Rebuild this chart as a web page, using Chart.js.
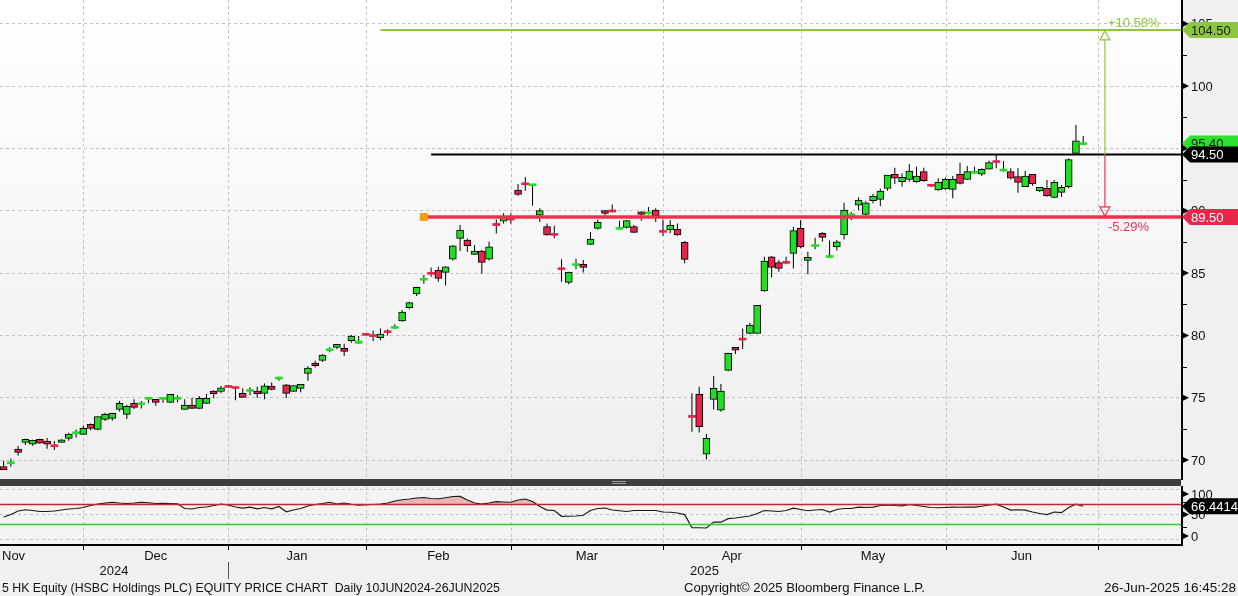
<!DOCTYPE html>
<html><head><meta charset="utf-8">
<script src="https://cdn.jsdelivr.net/npm/chart.js@4.4.1/dist/chart.umd.min.js"></script>
<style>
html,body{margin:0;padding:0;background:#f0f0f0;width:1238px;height:596px;overflow:hidden;font-family:"Liberation Sans",Arial,sans-serif;}
#mainBox{position:absolute;left:0;top:0;width:1238px;height:480px;}
#sep{position:absolute;left:0;top:479px;width:1181px;height:7px;background:#3e3e3e;}
#sep i{position:absolute;left:612px;width:14px;height:1px;background:#9a9a9a;}
#rsiBox{position:absolute;left:0;top:486px;width:1238px;height:110px;}
.foot{position:absolute;top:580px;font-size:13px;line-height:15px;color:#111;white-space:pre;transform-origin:0 0;}
</style></head>
<body>
<div id="mainBox"><canvas id="cMain"></canvas></div>
<div id="sep"><i style="top:2px"></i><i style="top:4px"></i></div>
<div id="rsiBox"><canvas id="cRsi"></canvas></div>
<div class="foot" style="left:2px" data-w="498">5 HK Equity (HSBC Holdings PLC) EQUITY PRICE CHART  Daily 10JUN2024-26JUN2025</div>
<div class="foot" style="left:684px" data-w="241">Copyright© 2025 Bloomberg Finance L.P.</div>
<div class="foot" style="left:1104px" data-w="132">26-Jun-2025 16:45:28</div>
<script>
// ---------- categories (trading days) ----------
const novDays=[15,18,19,20,21,22,25,26,27,28,29];
const decDays=[2,3,4,5,6,9,10,11,12,13,16,17,18,19,20,23,24,27,30,31];
const janDays=[2,3,6,7,8,9,10,13,14,15,16,17,20,21,22,23,24,27,28];
const febDays=[3,4,5,6,7,10,11,12,13,14,17,18,19,20,21,24,25,26,27,28];
const marDays=[3,4,5,6,7,10,11,12,13,14,17,18,19,20,21,24,25,26,27,28,31];
const aprDays=[1,2,3,7,8,9,10,11,14,15,16,17,22,23,24,25,28,29,30];
const mayDays=[2,6,7,8,9,12,13,14,15,16,19,20,21,22,23,26,27,28,29,30];
const junDays=[2,3,4,5,6,9,10,11,12,13,16,17,18,19,20,23,24,25,26,27,30];
const julDays=[2,3,4,7,8,9,10,11,14,15,16,17];
const monthKeys=['2024-11','2024-12','2025-01','2025-02','2025-03','2025-04','2025-05','2025-06','2025-07'];
const monthNames=['Nov','Dec','Jan','Feb','Mar','Apr','May','Jun','Jul'];
const monthDays=[novDays,decDays,janDays,febDays,marDays,aprDays,mayDays,junDays,julDays];
const labels=[];
monthKeys.forEach((m,k)=>monthDays[k].forEach(d=>labels.push(m+'-'+String(d).padStart(2,'0'))));

// ---------- price series ----------
const openP=[69.47,69.70,70.88,71.42,71.28,71.66,71.52,71.18,71.42,71.74,
72.11,72.06,72.86,72.46,73.26,73.34,74.06,73.66,74.55,74.44,
74.87,74.87,74.87,74.63,74.87,74.06,74.41,74.14,74.55,75.53,
75.50,75.94,75.88,75.35,75.50,75.53,75.35,75.94,76.50,76.04,
75.50,75.75,76.95,77.78,77.99,78.77,79.04,78.97,79.58,79.36,
80.05,80.03,79.82,80.36,80.56,81.16,82.22,83.32,84.42,85.02,
85.21,85.05,86.12,87.78,87.65,86.50,86.76,86.12,88.98,89.17,
89.40,91.66,92.19,92.00,89.65,88.72,88.12,85.40,84.25,85.60,
85.70,87.30,88.58,90.00,90.05,88.50,88.66,88.72,89.90,89.75,
90.05,88.38,88.45,88.50,87.46,73.55,75.27,70.48,74.87,74.00,
77.19,79.04,79.74,80.16,80.16,83.56,86.30,85.83,85.90,86.58,
88.58,86.02,87.12,88.18,86.25,87.10,88.05,89.60,90.45,89.70,
90.80,90.91,91.79,92.91,92.33,92.51,92.33,93.13,92.11,91.66,
91.74,91.71,92.91,92.51,93.00,92.94,93.34,93.98,93.18,93.13,
92.73,91.93,92.91,91.58,91.79,91.07,91.47,91.93,94.60,95.30];
const highP=[69.95,70.13,71.12,71.70,71.62,71.70,71.76,71.52,71.66,72.19,
72.46,72.78,72.94,73.50,73.80,73.80,74.73,74.44,74.87,74.73,
74.98,74.90,75.03,75.30,75.20,74.87,75.00,75.13,75.30,75.60,
75.94,75.97,75.90,75.75,75.83,75.88,76.15,76.23,76.68,76.10,
76.00,76.10,77.54,77.97,78.50,79.04,79.30,79.33,80.03,79.95,
80.07,80.40,80.56,80.50,80.90,82.03,82.70,83.90,84.84,85.45,
85.50,85.55,87.25,88.85,87.78,87.25,86.85,87.50,89.30,89.79,
89.80,92.14,92.70,92.10,90.20,88.98,88.80,86.10,85.10,86.15,
86.04,88.30,89.30,90.05,90.50,89.20,89.25,88.85,89.95,90.30,
90.20,89.30,89.25,88.98,87.57,75.35,75.88,72.09,76.74,76.10,
78.60,79.05,80.56,81.00,82.40,86.30,86.36,86.04,86.30,88.72,
89.25,86.70,87.83,88.30,87.60,87.65,90.64,89.90,91.07,90.75,
91.34,91.79,92.86,93.45,93.00,93.74,93.53,93.45,92.14,92.60,
92.67,92.78,93.85,93.58,93.53,93.40,94.00,94.52,93.98,93.40,
93.40,93.18,92.95,91.90,92.46,92.46,92.06,94.20,96.87,96.00];
const lowP=[69.20,69.47,70.37,71.20,71.15,71.30,70.90,70.80,71.40,71.55,
71.80,72.00,72.40,72.40,73.13,73.15,73.90,73.30,74.10,74.14,
74.55,74.36,74.60,74.60,74.63,74.06,74.10,74.10,74.50,74.95,
75.35,75.80,74.80,75.00,75.20,75.00,74.87,75.60,76.36,74.95,
75.45,75.43,76.36,77.43,77.86,78.64,78.90,78.35,79.41,79.30,
79.97,79.55,79.60,80.00,80.50,81.10,82.10,83.15,84.14,84.70,
84.30,84.00,86.00,86.76,86.70,86.45,84.97,86.00,88.18,88.98,
88.98,91.20,91.60,90.40,89.10,88.00,87.80,84.30,84.10,85.30,
85.05,87.25,88.50,89.50,89.85,88.50,88.58,88.20,89.20,89.70,
89.10,88.00,88.20,88.00,85.78,72.27,72.20,70.05,74.06,73.88,
77.15,78.50,78.90,80.10,80.16,83.50,84.65,85.10,85.70,85.37,
86.98,84.90,86.90,87.50,86.20,86.80,87.70,89.25,90.05,89.60,
90.60,90.37,91.60,92.14,91.93,92.33,92.25,92.33,91.90,91.60,
91.66,91.00,92.10,92.46,92.98,92.78,93.30,93.40,93.13,92.50,
91.44,91.90,92.00,91.50,91.12,91.00,91.10,91.80,94.50,95.27];
const closeP=[69.20,69.75,70.61,71.66,71.58,71.36,71.28,71.07,71.63,72.09,
72.25,72.54,72.54,73.48,73.66,73.74,74.55,74.30,74.22,74.48,
74.95,74.63,75.00,75.27,75.00,74.41,74.14,74.95,74.95,75.30,
75.80,75.82,75.74,75.03,75.60,75.32,75.96,75.67,76.55,75.35,
75.98,76.07,77.37,77.57,78.41,78.90,79.29,78.72,79.95,79.55,
80.00,79.90,80.10,80.22,80.72,81.87,82.63,83.85,84.51,84.90,
84.57,85.50,87.19,88.45,87.19,86.76,85.86,87.11,88.80,89.44,
89.25,91.31,92.08,92.05,90.00,88.05,88.02,85.27,85.05,85.72,
85.45,87.73,89.06,89.79,89.90,88.62,89.20,88.26,89.70,89.82,
89.60,88.26,88.85,88.05,86.10,73.42,72.67,71.74,75.75,75.53,
78.56,78.82,79.62,80.83,82.40,85.96,85.45,85.37,85.78,88.40,
87.10,86.26,87.22,87.86,86.38,87.50,90.05,89.66,90.86,90.64,
91.18,91.58,92.86,92.60,92.67,93.18,92.78,92.40,91.96,92.27,
92.51,92.51,92.19,93.13,93.10,93.32,93.85,93.86,93.30,92.60,
92.27,92.78,92.14,91.87,91.20,92.27,91.87,94.10,95.60,95.40];
const rsiValues=[45,50,57,59.5,58,56,56,57,59,61,
62,64,68,71,73,74.5,73,72,73,74.5,
73.5,72,72.5,72,71.5,62,61,64,65,68,
71,69,65,62.7,64.7,61.4,64,61.4,66,55.5,
59,62,67,70,72,74.5,71,73,70.5,68.6,
69.5,70,70.6,73,77,79.5,81,83,84,82,
81.5,83.5,86,86.3,79,73,70.6,73,75.8,75,
74.5,79,81,76,66,58.8,58,46.4,46.5,47,
48.5,58,62,63,59,57.5,56,58,58,58,
58,55,54.5,53,49.7,23.5,23.5,23,35,34.6,
41.8,43,45,47,52,58,57,56,58,62.7,
60,57.5,59,60,55,60,62,62,64.7,64,
64.7,68,69.3,68,67.3,70,68,66,64,63.5,
64,64.7,64.5,64.7,64.7,66.5,69,70.6,65,58.8,
59.5,58.8,55,52,49.7,55,53.6,64,70.6,66.4414];

// ---------- annotation levels ----------
const targetLevel=104.50, pivotLevel=94.50, supportLevel=89.50;
const targetFrom='2025-02-05', pivotFrom='2025-02-14', supportFrom='2025-02-13', arrowAt='2025-07-03';
const rsiHigh=70, rsiLow=30;
const yTickLabels=[0,50,100];

const UP='#22de22', DOWN='#e6234b';
const C_TARGET='#8dc63f', C_SUPPORT='#f0304f';
const FONT='13px "Liberation Sans", Arial, sans-serif';
const GRID='#c2c2c2';

const monthStarts=[];
labels.forEach((l,i)=>{ if(i>0 && l.slice(0,7)!==labels[i-1].slice(0,7)) monthStarts.push(i); });

function vGrid(ch){
  const {ctx,chartArea:a,scales:{x}}=ch;
  ctx.save(); ctx.strokeStyle=GRID; ctx.lineWidth=1; ctx.setLineDash([3,3]);
  monthStarts.forEach(i=>{ const px=Math.round(x.getPixelForValue(i))+0.5;
    ctx.beginPath(); ctx.moveTo(px,a.top); ctx.lineTo(px,a.bottom); ctx.stroke(); });
  ctx.restore();
}
function flag(ctx,x,y,w,h,bg,fg,text){
  ctx.save(); ctx.fillStyle=bg; ctx.beginPath();
  ctx.moveTo(x,y); ctx.lineTo(x+8,y-h/2); ctx.lineTo(x+w,y-h/2); ctx.lineTo(x+w,y+h/2); ctx.lineTo(x+8,y+h/2); ctx.closePath(); ctx.fill();
  ctx.fillStyle=fg; ctx.font=FONT; ctx.textBaseline='middle'; ctx.textAlign='left';
  ctx.fillText(text,x+9,y+1); ctx.restore();
}
function tri(ctx,x,y){ ctx.beginPath(); ctx.moveTo(x,y-3.5); ctx.lineTo(x+7,y); ctx.lineTo(x,y+3.5); ctx.closePath(); ctx.fill(); }

const mainDeco={
  id:'mainDeco',
  beforeDraw(ch){
    const {ctx,chartArea:a}=ch;
    ctx.save();
    const g=ctx.createLinearGradient(0,a.top,0,a.bottom); g.addColorStop(0,'#ffffff'); g.addColorStop(1,'#eeeeee');
    ctx.fillStyle=g; ctx.fillRect(a.left,a.top,a.right-a.left,a.bottom-a.top);
    ctx.fillStyle='#f0f0f0'; ctx.fillRect(a.right,0,ch.width-a.right,ch.height);
    ctx.restore();
  },
  beforeDatasetsDraw(ch){ vGrid(ch); },
  afterDatasetsDraw(ch){
    const {ctx,chartArea:a,scales:{x,y}}=ch;
    const yT=y.getPixelForValue(targetLevel), yP=y.getPixelForValue(pivotLevel), yS=y.getPixelForValue(supportLevel);
    const xT=x.getPixelForValue(labels.indexOf(targetFrom)), xP=x.getPixelForValue(labels.indexOf(pivotFrom)), xS=x.getPixelForValue(labels.indexOf(supportFrom));
    const xA=x.getPixelForValue(labels.indexOf(arrowAt));
    ctx.save();
    ctx.lineWidth=2; ctx.strokeStyle=C_TARGET; ctx.beginPath(); ctx.moveTo(xT,yT); ctx.lineTo(a.right,yT); ctx.stroke();
    ctx.strokeStyle='#000'; ctx.beginPath(); ctx.moveTo(xP,yP); ctx.lineTo(a.right,yP); ctx.stroke();
    ctx.lineWidth=3.5; ctx.strokeStyle=C_SUPPORT; ctx.beginPath(); ctx.moveTo(xS,yS); ctx.lineTo(a.right,yS); ctx.stroke();
    ctx.fillStyle='#f0a010'; ctx.fillRect(xS-4,yS-4,8,8);
    ctx.lineWidth=1.2;
    ctx.strokeStyle=C_TARGET; ctx.beginPath(); ctx.moveTo(xA,yT+10); ctx.lineTo(xA,yP); ctx.stroke();
    ctx.beginPath(); ctx.moveTo(xA,yT+1); ctx.lineTo(xA-5,yT+10); ctx.lineTo(xA+5,yT+10); ctx.closePath(); ctx.stroke();
    ctx.strokeStyle=C_SUPPORT; ctx.beginPath(); ctx.moveTo(xA,yP); ctx.lineTo(xA,yS-10); ctx.stroke();
    ctx.beginPath(); ctx.moveTo(xA,yS-1); ctx.lineTo(xA-5,yS-10); ctx.lineTo(xA+5,yS-10); ctx.closePath(); ctx.stroke();
    ctx.font=FONT; ctx.textBaseline='middle'; ctx.textAlign='left';
    const up=(targetLevel-pivotLevel)/pivotLevel*100, dn=(supportLevel-pivotLevel)/pivotLevel*100;
    ctx.fillStyle=C_TARGET; ctx.fillText('+'+up.toFixed(2)+'%',xA+3,yT-7);
    ctx.fillStyle=C_SUPPORT; ctx.fillText(dn.toFixed(2)+'%',xA+3,yS+10);
    ctx.restore();
  },
  afterDraw(ch){
    const {ctx,chartArea:a,scales:{y}}=ch;
    ctx.save();
    ctx.fillStyle='#000'; ctx.fillRect(a.right,0,2,a.bottom);
    ctx.font=FONT; ctx.textBaseline='middle'; ctx.textAlign='left';
    y.ticks.forEach(t=>{
      const py=y.getPixelForValue(t.value);
      ctx.fillStyle='#000'; tri(ctx,a.right+1,py);
      ctx.fillStyle='#111'; ctx.fillText(String(t.value),a.right+10,py+1);
      const mv=t.value+2.5, pm=y.getPixelForValue(mv);
      if(mv<y.max){ ctx.fillStyle='#000'; ctx.fillRect(a.right,Math.round(pm),6,1); }
    });
    const w=ch.width-a.right;
    const last=closeP[closeP.length-1];
    flag(ctx,a.right+1,y.getPixelForValue(targetLevel),w,16,C_TARGET,'#1a1a1a',targetLevel.toFixed(2));
    flag(ctx,a.right+1,y.getPixelForValue(last),w,16,'#2ee02e','#1a1a1a',last.toFixed(2));
    flag(ctx,a.right+1,y.getPixelForValue(pivotLevel),w,16,'#000','#fff',pivotLevel.toFixed(2));
    flag(ctx,a.right+1,y.getPixelForValue(supportLevel),w,16,'#e8284a','#fff',supportLevel.toFixed(2));
    ctx.restore();
  }
};

const thin=i=>Math.abs(closeP[i]-openP[i])<0.2;
new Chart(document.getElementById('cMain'),{
  type:'bar',
  data:{labels,datasets:[
    {label:'range',data:lowP.map((l,i)=>[l,highP[i]]),backgroundColor:'#000',barThickness:1,grouped:false,order:2,inflateAmount:0},
    {label:'body',data:openP.map((o,i)=>[o,closeP[i]]),
      backgroundColor:c=>closeP[c.dataIndex]>=openP[c.dataIndex]?UP:DOWN,
      borderColor:'#000',borderWidth:c=>thin(c.dataIndex)?0:1,borderSkipped:false,
      barThickness:7,minBarLength:2,grouped:false,order:1}
  ]},
  options:{responsive:true,maintainAspectRatio:false,animation:false,
    layout:{padding:0},
    plugins:{legend:{display:false},tooltip:{enabled:false}},
    scales:{
      x:{display:false,offset:true},
      y:{position:'right',min:68.4,max:106.9,
        ticks:{display:false,stepSize:5,includeBounds:false},
        grid:{color:GRID,drawTicks:false},border:{display:false,dash:[3,3]},
        afterFit(s){s.width=57;}}
    }},
  plugins:[mainDeco]
});

const rsiDeco={
  id:'rsiDeco',
  beforeDraw(ch){
    const {ctx,chartArea:a}=ch;
    ctx.save(); ctx.fillStyle='#f3f3f3'; ctx.fillRect(a.left,a.top,a.right-a.left,a.bottom-a.top); ctx.restore();
  },
  beforeDatasetsDraw(ch){ vGrid(ch); },
  afterDatasetsDraw(ch){
    const {ctx,chartArea:a,scales:{y}}=ch;
    ctx.save(); ctx.lineWidth=1.5;
    ctx.strokeStyle='#c0282e'; const p7=y.getPixelForValue(rsiHigh); ctx.beginPath(); ctx.moveTo(a.left,p7); ctx.lineTo(a.right,p7); ctx.stroke();
    ctx.strokeStyle='#33cc33'; const p3=y.getPixelForValue(rsiLow); ctx.beginPath(); ctx.moveTo(a.left,p3); ctx.lineTo(a.right,p3); ctx.stroke();
    ctx.restore();
  },
  afterDraw(ch){
    const {ctx,chartArea:a,scales:{x,y}}=ch;
    ctx.save();
    ctx.fillStyle='#000'; ctx.fillRect(a.right,0,2,a.bottom+1); ctx.fillRect(0,a.bottom-1,a.right+2,2);
    ctx.font=FONT; ctx.textBaseline='middle'; ctx.textAlign='left';
    yTickLabels.forEach(v=>{
      let py=y.getPixelForValue(v); py=Math.min(Math.max(py,a.top+8),a.bottom-9);
      ctx.fillStyle='#000'; tri(ctx,a.right+1,py);
      ctx.fillStyle='#111'; ctx.fillText(String(v),a.right+10,py+1);
    });
    [25,75].forEach(v=>{ ctx.fillStyle='#000'; ctx.fillRect(a.right,Math.round(y.getPixelForValue(v)),6,1); });
    const lastR=rsiValues[rsiValues.length-1];
    flag(ctx,a.right+1,y.getPixelForValue(lastR),ch.width-a.right,16,'#000','#fff',lastR.toFixed(4));
    ctx.fillStyle='#000';
    monthStarts.forEach(i=>{ const px=Math.round(x.getPixelForValue(i)); ctx.fillRect(px,a.bottom,1,5); });
    ctx.fillStyle='#111'; ctx.textBaseline='alphabetic';
    const bounds=[0].concat(monthStarts);
    bounds.forEach((s,k)=>{
      const name=monthNames[monthKeys.indexOf(labels[s].slice(0,7))];
      if(k===0){ ctx.textAlign='left'; ctx.fillText(name,2,a.bottom+15); return; }
      const e=k+1<bounds.length?bounds[k+1]:null;
      if(e===null) return;
      const cx=(x.getPixelForValue(s)+x.getPixelForValue(e))/2;
      ctx.textAlign='center'; ctx.fillText(name,cx,a.bottom+15);
    });
    const janIdx=labels.indexOf('2025-01-'+String(janDays[0]).padStart(2,'0'));
    const pj=Math.round(x.getPixelForValue(janIdx));
    ctx.textAlign='center';
    ctx.fillText('2024',(a.left+pj)/2,a.bottom+30);
    ctx.fillText('2025',(pj+a.right)/2,a.bottom+30);
    ctx.fillStyle='#555'; ctx.fillRect(pj,a.bottom+17,1,17);
    ctx.restore();
  }
};

new Chart(document.getElementById('cRsi'),{
  type:'line',
  data:{labels,datasets:[{label:'RSI',data:rsiValues,borderColor:'#1a1a1a',borderWidth:1.2,pointRadius:0,tension:0,
    fill:{target:{value:rsiHigh},above:'rgba(232,140,140,0.6)',below:'rgba(0,0,0,0)'}}]},
  options:{responsive:true,maintainAspectRatio:false,animation:false,
    layout:{padding:{left:0,right:0,top:0,bottom:51}},
    plugins:{legend:{display:false},tooltip:{enabled:false}},
    scales:{
      x:{display:false,offset:true},
      y:{position:'right',min:-11,max:107,
        afterBuildTicks(s){ s.ticks=yTickLabels.map(v=>({value:v})); },
        ticks:{display:false},grid:{color:GRID,drawTicks:false},border:{display:false,dash:[3,3]},
        afterFit(s){s.width=57;}}
    }},
  plugins:[rsiDeco]
});

document.querySelectorAll('.foot').forEach(el=>{
  const w=+el.dataset.w, r=w/el.getBoundingClientRect().width;
  el.style.transform='scaleX('+r+')';
});
</script>
</body></html>
